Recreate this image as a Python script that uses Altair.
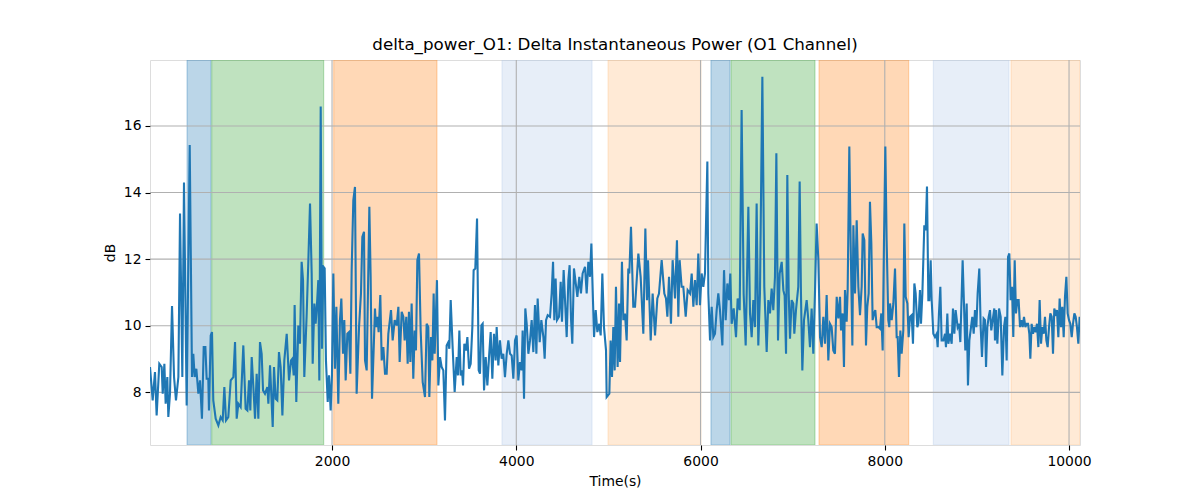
import altair as alt
import pandas as pd

# ---- line data: (time, dB) ----
seg1 = [(24,8.76),(53,7.76),(78,8.61),(96,7.31),(125,8.86),(151,8.76),(162,7.96),(180,8.86),(194,7.66),(212,8.46),(223,7.26),(241,7.96),(263,10.59),(285,8.46),(306,7.76),(332,8.46),(350,13.37),(375,8.46),(393,14.30),(422,7.61),(455,15.43),(480,8.46),(494,9.16),(509,8.46),(527,8.71),(549,7.96),(567,8.36),(588,7.21),(607,9.36),(625,9.36),(639,8.41),(657,8.41),(664,7.46),(683,9.71),(697,9.81),(711,7.76),(737,7.21),(766,7.01),(791,7.26),(813,7.16),(831,8.16),(849,7.16),(874,7.26),(900,8.36),(929,8.46),(947,9.51),(965,7.21),(983,7.66),(1008,7.56),(1037,9.41),(1062,7.51),(1081,7.46),(1099,8.36),(1113,7.46),(1128,9.06),(1146,8.16),(1164,7.21),(1182,8.56),(1200,7.21)]
seg2 = [(1218,9.51),(1236,9.16),(1251,8.06),(1272,7.96),(1298,8.16),(1309,7.66),(1327,8.81),(1356,6.96),(1370,8.76),(1388,7.81),(1406,7.76),(1424,9.21),(1442,8.76),(1461,7.31),(1482,8.96),(1508,9.76),(1533,8.36),(1555,8.96),(1569,9.01),(1584,8.51),(1594,10.62),(1612,7.71),(1634,10.01),(1652,9.46),(1670,11.92),(1685,11.37),(1699,8.46),(1725,10.37),(1743,11.97),(1761,13.67),(1779,11.57),(1790,8.86),(1808,10.67),(1822,10.06),(1837,10.67),(1851,11.37),(1862,8.36),(1877,16.58),(1891,9.31),(1906,11.77),(1920,11.72),(1934,8.96),(1953,7.71),(1967,8.51),(1985,7.46),(1999,8.51),(2014,11.57),(2032,8.71),(2047,10.57),(2068,7.66),(2086,10.17),(2101,10.82),(2119,9.16),(2133,10.17),(2148,8.36),(2166,9.76),(2184,9.81),(2199,8.56),(2213,11.67),(2231,13.77),(2249,14.17),(2267,7.96),(2293,9.96),(2314,10.97),(2329,12.67),(2347,12.82)]
seg3 = [(2358,8.96),(2376,8.66),(2405,13.57),(2419,11.47),(2434,7.81),(2455,9.56),(2466,10.52),(2477,9.96),(2492,10.27),(2506,9.81),(2524,10.92),(2539,8.96),(2557,9.36),(2575,8.56),(2593,8.56),(2611,9.76),(2640,10.47),(2658,9.56),(2680,10.17),(2702,10.01),(2720,10.57),(2734,8.91),(2756,10.42),(2774,10.27),(2788,9.56),(2806,10.27),(2821,8.86),(2835,10.42),(2850,8.91),(2864,10.67),(2882,8.41),(2897,9.86),(2911,9.26),(2926,11.97),(2944,12.17),(2962,9.86),(2984,8.31),(3009,7.86),(3027,10.06),(3045,9.96),(3056,7.86),(3074,9.66),(3089,8.96),(3103,10.97),(3114,9.16),(3125,10.06),(3139,11.37),(3154,8.21),(3172,9.06),(3190,8.76),(3208,8.66),(3226,7.16),(3244,9.41),(3262,9.51),(3273,9.31),(3288,10.77),(3309,9.36),(3331,8.01),(3353,9.06),(3367,8.51),(3382,9.86),(3396,8.51),(3411,8.66),(3422,8.21),(3436,9.46),(3454,9.26),(3469,9.66),(3487,8.71)]
seg4 = [(3505,8.86),(3523,9.96),(3537,11.67),(3555,11.72),(3574,13.22),(3592,8.66),(3606,8.56),(3621,10.01),(3635,10.06),(3650,8.06),(3668,9.06),(3686,8.21),(3704,9.06),(3722,9.81),(3740,8.41),(3758,9.76),(3776,8.96),(3787,9.96),(3805,8.81),(3823,9.56),(3841,9.01),(3859,9.16),(3877,8.46),(3896,9.16),(3914,9.56),(3932,9.16),(3950,9.11),(3968,8.41),(3986,9.56),(4004,9.71),(4022,8.36),(4040,8.91),(4058,8.66),(4069,9.86),(4084,7.81),(4098,10.52),(4113,10.06),(4131,9.16),(4149,9.56),(4167,10.17),(4185,9.21),(4203,10.62),(4218,9.16),(4232,10.82),(4254,9.51),(4272,10.17),(4294,9.66),(4308,9.01),(4323,10.17),(4341,10.32),(4366,10.27),(4384,10.97),(4399,11.92),(4413,10.17),(4427,11.42),(4442,10.17),(4464,10.27),(4482,11.32),(4496,10.12),(4514,11.67),(4529,10.77),(4547,9.66),(4565,11.37),(4579,11.82),(4594,10.22),(4608,9.46),(4626,11.72)]
seg5 = [(4663,10.87),(4684,11.47),(4702,10.97),(4720,11.57),(4746,11.77),(4764,10.97),(4782,11.92),(4800,11.47),(4815,12.47),(4825,11.47),(4844,9.66),(4862,10.47),(4880,9.81),(4901,10.06),(4916,9.71),(4934,11.57),(4952,9.96),(4974,9.26),(4981,7.86),(5010,7.96),(5024,9.56),(5039,8.46),(5053,9.96),(5068,8.66),(5082,11.17),(5100,8.76),(5115,10.67),(5126,8.91),(5147,11.92),(5162,10.17),(5180,10.37),(5198,9.56),(5216,11.72),(5227,11.57),(5245,12.97),(5270,10.57),(5289,10.57),(5325,12.17),(5350,11.47),(5379,9.76),(5401,12.92),(5419,10.77),(5430,11.97),(5459,9.56),(5480,10.97),(5506,9.71),(5531,10.82),(5549,10.97),(5578,11.97),(5607,10.97),(5625,10.82),(5640,10.27),(5658,11.47),(5679,10.06),(5697,11.97),(5723,10.82),(5744,12.57),(5759,10.27),(5773,11.97)]
seg6 = [(5795,11.17),(5813,11.17),(5839,10.27),(5860,11.07),(5886,10.97),(5904,11.57),(5922,10.57),(5940,11.37),(5958,10.62),(5976,12.17),(5994,10.62),(6012,11.57),(6030,11.17),(6048,11.57),(6074,14.93),(6085,10.97),(6103,9.56),(6121,10.57),(6139,9.66),(6157,9.76),(6175,10.47),(6193,10.97),(6211,10.47),(6237,9.41),(6255,11.67),(6273,10.17),(6291,11.27),(6309,10.77),(6323,11.57),(6338,10.06),(6360,10.52),(6385,9.66),(6403,10.82),(6425,10.47),(6446,16.48),(6468,10.97),(6490,9.41),(6519,13.57),(6537,10.37),(6555,9.66),(6573,10.77),(6591,9.96),(6609,13.67),(6627,9.41),(6645,10.97),(6671,17.48),(6692,11.17),(6718,9.21),(6736,10.77),(6754,10.37),(6772,11.12),(6790,10.47),(6808,11.47),(6823,15.18),(6841,9.56),(6859,11.57),(6881,11.92),(6899,11.07),(6913,10.90)]
seg7 = [(6928,9.16),(6942,14.53),(6957,10.97),(6971,9.61),(6989,10.77),(7007,10.67),(7018,9.76),(7036,10.47),(7061,11.17),(7076,14.33),(7090,10.97),(7105,8.66),(7123,10.17),(7152,10.77),(7170,10.17),(7188,9.36),(7206,10.52),(7224,9.16),(7242,10.97),(7260,13.07),(7279,11.97),(7297,9.66),(7315,9.36),(7333,10.27),(7351,9.46),(7369,10.92),(7387,8.96),(7405,10.06),(7423,9.96),(7441,9.26),(7459,9.16),(7478,10.87),(7496,10.22),(7514,10.87),(7525,9.86),(7543,10.37),(7557,8.76),(7568,11.07),(7586,10.12),(7597,11.07),(7615,15.38),(7630,12.37),(7648,9.41),(7659,13.02),(7677,10.97),(7695,13.17),(7713,11.17),(7731,10.32),(7749,11.17),(7760,12.77),(7778,12.57),(7796,9.41),(7810,10.57),(7825,10.97),(7839,13.72),(7854,12.47),(7868,10.17),(7883,10.37),(7897,10.47),(7912,9.96),(7930,9.96),(7948,9.91),(7962,10.37),(7977,9.26),(7991,12.47),(8006,15.38),(8020,12.57),(8038,10.17),(8049,9.96)]
seg8 = [(8057,10.67),(8075,10.17),(8093,10.67),(8111,11.72),(8129,9.66),(8140,9.66),(8154,8.46),(8169,9.86),(8183,9.16),(8201,9.86),(8212,13.07),(8227,10.87),(8245,10.67),(8259,9.66),(8274,10.27),(8292,10.32),(8306,9.46),(8321,11.27),(8335,10.97),(8353,9.96),(8364,10.06),(8382,11.07),(8393,10.06),(8408,10.97),(8429,13.02),(8444,12.87),(8458,14.18),(8473,10.77),(8484,10.77),(8498,11.97),(8509,10.77),(8527,9.76),(8545,9.66),(8563,9.76),(8574,9.36),(8588,10.37),(8603,11.17),(8617,9.56),(8636,9.56),(8654,9.76),(8664,9.36),(8679,10.37),(8690,9.46),(8708,9.76),(8726,9.46),(8740,10.52),(8755,9.76),(8769,10.47),(8791,9.96),(8806,10.06),(8820,9.51),(8835,10.97),(8845,11.97),(8860,10.62),(8874,9.26),(8889,10.67),(8903,8.21),(8918,9.56),(8936,9.96),(8950,10.27),(8965,9.76),(8979,10.47),(8994,9.96),(9008,10.97),(9026,11.72),(9041,9.96),(9055,9.06),(9073,10.22),(9088,10.17),(9099,8.76),(9113,9.96),(9128,10.27),(9142,10.47),(9156,9.86),(9171,10.17),(9189,10.52)]
seg9 = [(9196,9.56),(9207,10.47),(9222,9.46),(9240,10.52),(9258,10.27),(9276,8.51),(9294,9.96),(9309,10.27),(9323,8.96),(9338,12.07),(9352,12.17),(9366,10.77),(9381,11.17),(9395,9.66),(9410,11.97),(9424,10.37),(9439,10.77),(9453,10.77),(9468,9.96),(9482,10.17),(9497,9.96),(9511,10.27),(9526,9.96),(9540,10.06),(9555,10.06),(9569,9.76),(9580,9.01),(9594,10.06),(9609,9.76),(9623,9.96),(9638,9.81),(9652,10.06),(9667,9.36),(9681,10.77),(9696,9.46),(9710,9.96),(9725,9.76),(9739,10.27),(9754,9.56),(9768,9.36),(9783,9.96),(9797,10.37),(9812,10.27),(9826,9.16),(9840,10.52),(9855,10.37),(9869,10.47),(9884,9.66),(9898,10.82),(9913,9.96),(9927,10.57),(9942,9.66),(9956,10.87),(9971,11.47),(9985,10.37),(10000,10.17),(10014,10.06),(10029,9.66),(10043,10.06),(10058,10.37),(10072,10.27),(10086,9.96),(10101,9.46),(10115,10.27)]

# ---- shaded bands ----
band_start = [426, 694, 2018, 3845, 4996, 6113, 6331, 7286, 8527, 9370]
band_end = [686, 1909, 3139, 4822, 6004, 6320, 7242, 8259, 9348, 10119]
band_color = ["#1f77b4", "#2ca02c", "#ff7f0e", "#aec7e8", "#ffbb78",
              "#1f77b4", "#2ca02c", "#ff7f0e", "#aec7e8", "#ffbb78"]

x_ticks = [2000, 4000, 6000, 8000, 10000]
y_ticks = [8, 10, 12, 14, 16]
x_domain = [24, 10119]
y_domain = [6.42, 17.98]

title = "delta_power_O1: Delta Instantaneous Power (O1 Channel)"
FONT = "DejaVu Sans"

pts = seg1 + seg2 + seg3 + seg4 + seg5 + seg6 + seg7 + seg8 + seg9
line_df = pd.DataFrame(pts, columns=["t", "v"])
band_df = pd.DataFrame({"start": band_start, "end": band_end, "color": band_color})
xg_df = pd.DataFrame({"t": x_ticks})
yg_df = pd.DataFrame({"v": y_ticks})

xscale = alt.Scale(domain=x_domain, nice=False, zero=False)
yscale = alt.Scale(domain=y_domain, nice=False, zero=False)

x_axis = alt.Axis(values=x_ticks, title="Time(s)", grid=False, domain=False,
                  tickColor="black", tickSize=5, tickWidth=1.1, labelPadding=4,
                  labelFont=FONT, labelFontSize=13.9, labelColor="black",
                  titleFont=FONT, titleFontSize=13.9, titleFontWeight="normal",
                  titleColor="black", titlePadding=7, format="d", labelFlush=False)
y_axis = alt.Axis(values=y_ticks, title="dB", grid=False, domain=False,
                  tickColor="black", tickSize=5, tickWidth=1.1, labelPadding=4,
                  labelFont=FONT, labelFontSize=13.9, labelColor="black",
                  titleFont=FONT, titleFontSize=13.9, titleFontWeight="normal",
                  titleColor="black", titlePadding=6, format="d")

bands = alt.Chart(band_df).mark_rect(fillOpacity=0.3, strokeOpacity=0.3, strokeWidth=1.2, clip=True).encode(
    x=alt.X("start:Q", scale=xscale, axis=x_axis),
    x2="end:Q",
    color=alt.Color("color:N", scale=None),
    stroke=alt.Stroke("color:N", scale=None),
)

xgrid = alt.Chart(xg_df).mark_rule(color="#b0b0b0", strokeWidth=1.1).encode(
    x=alt.X("t:Q", scale=xscale, axis=x_axis)
)
ygrid = alt.Chart(yg_df).mark_rule(color="#b0b0b0", strokeWidth=1.1).encode(
    y=alt.Y("v:Q", scale=yscale, axis=y_axis)
)

line = alt.Chart(line_df).mark_line(color="#1f77b4", strokeWidth=2.1, clip=True).encode(
    x=alt.X("t:Q", scale=xscale, axis=x_axis),
    y=alt.Y("v:Q", scale=yscale, axis=y_axis),
    order="t:Q",
)

chart = alt.layer(bands, xgrid, ygrid, line).properties(
    width=930, height=385,
    title=alt.TitleParams(title, font=FONT, fontSize=16.7, fontWeight="normal",
                          color="black", offset=6),
    autosize=alt.AutoSizeParams(type="none"),
    padding={"left": 150, "top": 60, "right": 120, "bottom": 55},
).configure_view(stroke="black", strokeWidth=1.1).configure(background="white")

chart.save("out.html", embed_options={"renderer": "svg", "actions": False})
